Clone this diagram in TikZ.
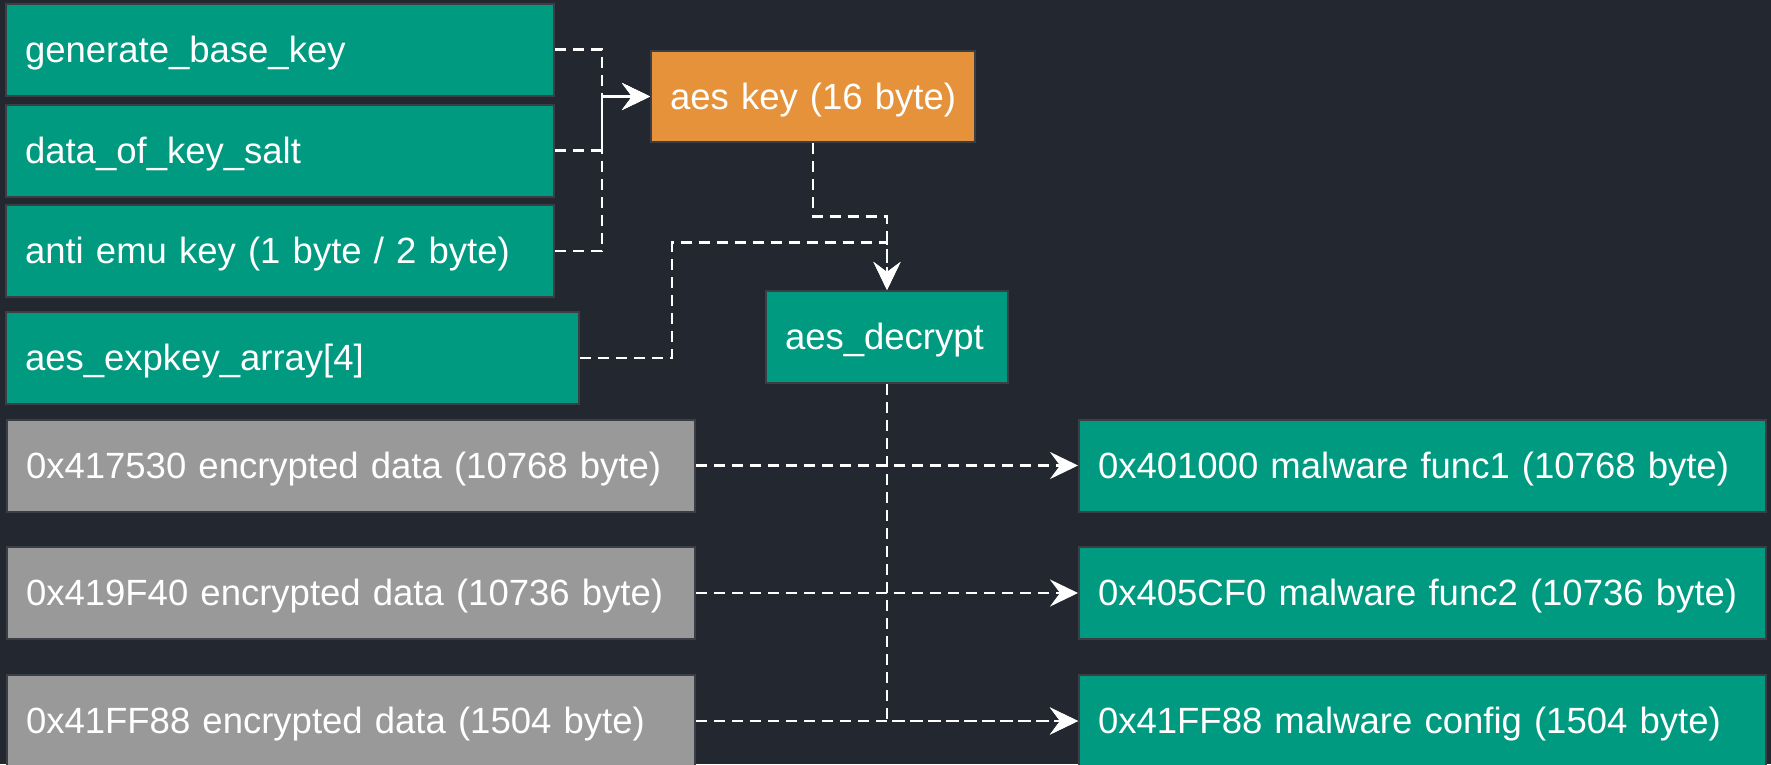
\documentclass[tikz,border=0pt]{standalone}
\usepackage{fontspec}
\setmainfont{Liberation Sans}
\usetikzlibrary{arrows.meta}
\definecolor{bgdark}{HTML}{23272F}
\definecolor{boxgreen}{HTML}{009A81}
\definecolor{boxorange}{HTML}{E5923B}
\definecolor{boxgray}{HTML}{999999}
\definecolor{boxedge}{HTML}{3B3F45}
\tikzset{
  box/.style={draw=boxedge, line width=2pt, text=white, inner xsep=19pt, inner ysep=0pt,
    minimum height=92pt, align=left, anchor=center,
    text height=33pt, text depth=7.5pt,
    font=\fontsize{36.5}{44}\selectfont},
  greenbox/.style={box, fill=boxgreen},
  graybox/.style={box, fill=boxgray},
  orangebox/.style={box, fill=boxorange},
  flow/.style={draw=white, line width=2.6pt, dash pattern=on 11pt off 7pt,
    -{Stealth[length=28pt, width=27pt, inset=10pt, fill=white]}},
}
\begin{document}
\begin{tikzpicture}[x=1pt, y=-1pt]
  % background and page frame
  \fill[bgdark] (0,0) rectangle (1771,764);
  \useasboundingbox (0,0) rectangle (1771,764);

  % key material inputs
  \node[greenbox, text width=510pt] (gen)    at (280,49.5)  {generate\_base\_key};
  \node[greenbox, text width=510pt] (salt)   at (280,150.5) {data\_of\_key\_salt};
  \node[greenbox, text width=510pt] (anti)   at (280,251)   {anti emu key (1 byte / 2 byte)};
  \node[greenbox, text width=535pt] (expkey) at (292.5,358) {aes\_expkey\_array[4]};

  % encrypted blobs
  \node[graybox, text width=650pt] (enc1) at (351,465.5) {0x417530 encrypted data (10768 byte)};
  \node[graybox, text width=650pt] (enc2) at (351,593)   {0x419F40 encrypted data (10736 byte)};
  \node[graybox, text width=650pt] (enc3) at (351,721)   {0x41FF88 encrypted data (1504 byte)};

  % decrypted outputs
  \node[greenbox, text width=649pt] (out1) at (1422.5,465.5) {0x401000 malware func1 (10768 byte)};
  \node[greenbox, text width=649pt] (out2) at (1422.5,593)   {0x405CF0 malware func2 (10736 byte)};
  \node[greenbox, text width=649pt] (out3) at (1422.5,721)   {0x41FF88 malware config (1504 byte)};

  % key and decryption routine
  \node[orangebox, text width=286pt, minimum height=91pt] (key) at (813,96.5) {\mbox{aes key (16 byte)}};
  \node[greenbox, text width=204pt] (dec) at (887,337) {aes\_decrypt};

  % routing points
  \coordinate (kj) at (602,96.5);
  \coordinate (ej) at (672,242.7);
  \coordinate (dj) at (887,216.5);

  % key derivation
  \draw[flow] (gen.east)  -| (kj) -- (key.west);
  \draw[flow] (salt.east) -| (kj) -- (key.west);
  \draw[flow] (anti.east) -| (kj) -- (key.west);

  % into the decryptor
  \draw[flow] (key.south) |- (dj) -- (dec.north);
  \draw[flow] (expkey.east) -| (ej) -| (dec.north);

  % decryption of each blob
  \draw[flow] (enc1.east) -- (out1.west);
  \draw[flow] (enc2.east) -- (out2.west);
  \draw[flow] (enc3.east) -- (out3.west);
  \draw[flow] (dec.south) |- (out3.west);
\end{tikzpicture}
\end{document}
